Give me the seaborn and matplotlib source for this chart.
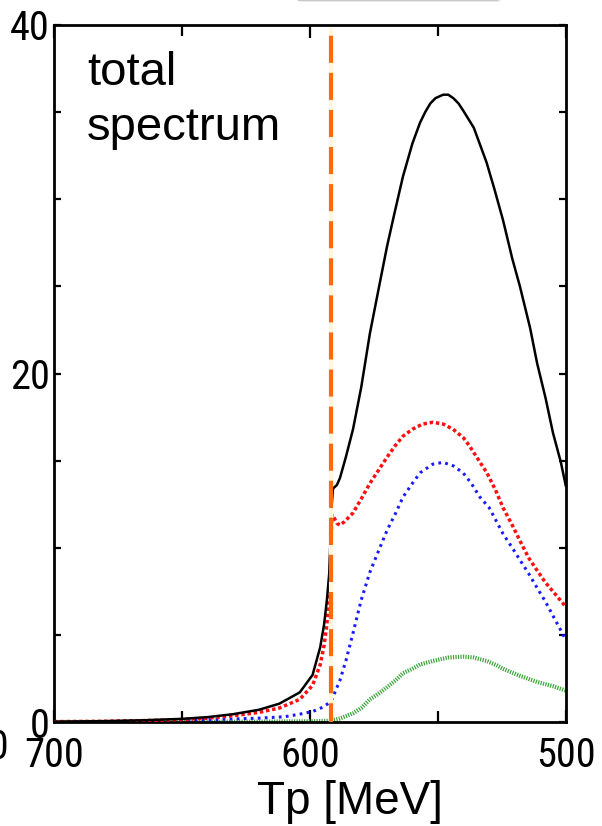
import numpy as np
import pandas as pd
import matplotlib
matplotlib.use("Agg")
import matplotlib.pyplot as plt
from matplotlib.ticker import MultipleLocator
from matplotlib.patches import FancyBboxPatch
from matplotlib import font_manager as fm
import seaborn as sns

# ---------------- data ----------------
threshold = 591.8

tp_black = [700, 680, 665, 650, 640, 630, 620, 612, 604, 599, 596, 594.5, 593.4, 592.5, 592.0,
            591.5, 591.0, 589.5, 588.3, 586, 583.2, 580, 576.6, 573, 569.9, 567, 563.7, 560,
            557, 555, 553, 551, 548, 546, 544, 542, 540.2, 536, 531, 528, 524.6, 521, 518, 514,
            511.3, 508, 505.1, 502, 500]
val_black = [0.02, 0.05, 0.1, 0.18, 0.28, 0.45, 0.7, 1.05, 1.7, 2.7, 4.3, 5.6, 7.0, 8.5, 10.5,
             12.5, 13.4, 13.6, 14.0, 15.2, 16.8, 19.2, 22.3, 25.0, 27.3, 29.2, 31.3, 33.2,
             34.4, 35.0, 35.5, 35.8, 36.0, 36.0, 35.8, 35.5, 35.1, 34.1, 32.1, 30.6, 28.8, 26.6,
             25.0, 22.6, 20.6, 18.6, 16.6, 14.9, 13.5]

tp_red = [700, 680, 665, 650, 640, 630, 620, 612, 604, 599, 596, 594.5, 593.4, 592.5, 592.0,
          591.5, 590.5, 589.5, 588.3, 586.5, 583.2, 580, 576.6, 573, 569.9, 566.5, 563.7, 560,
          556, 552, 548, 544.1, 540, 537.5, 534, 530.9, 527.5, 524.6, 521, 518, 514.5, 511.3,
          508, 504, 500]
val_red = [0.02, 0.04, 0.08, 0.14, 0.22, 0.36, 0.55, 0.8, 1.3, 2.1, 3.3, 4.4, 5.6, 7.2, 9.0,
           11.9, 11.7, 11.4, 11.3, 11.5, 12.0, 12.8, 13.7, 14.5, 15.2, 15.9, 16.4, 16.8,
           17.1, 17.2, 17.1, 16.8, 16.3, 15.8, 15.0, 14.3, 13.3, 12.3, 11.3, 10.4, 9.4, 8.7,
           8.0, 7.3, 6.6]

tp_blue = [700, 680, 665, 650, 635, 620, 610, 604, 599, 595, 592.5, 591.4, 590, 588.3, 586,
           583.2, 580, 576.6, 573, 569.9, 566.5, 563.7, 560, 557, 552, 548, 544, 540.2, 537,
           533.6, 530, 524.6, 521, 518, 514.5, 511.3, 508, 504, 500]
val_blue = [0.01, 0.03, 0.06, 0.1, 0.15, 0.22, 0.3, 0.45, 0.6, 0.85, 1.1, 1.3, 1.8, 2.4, 3.5,
            5.1, 7.0, 8.6, 9.9, 11.0, 12.0, 12.9, 13.7, 14.3, 14.8, 14.9, 14.7, 14.3, 13.7,
            12.9, 12.3, 10.8, 10.0, 9.3, 8.5, 7.7, 6.9, 5.8, 4.7]

tp_green = [700, 650, 620, 600, 592, 591.4, 588.3, 583.2, 580, 576.6, 573, 569.9, 566.5, 563.7,
            560, 557, 552, 546, 540, 536, 530.9, 527, 524.6, 518, 511.3, 505, 500]
val_green = [0.0, 0.01, 0.02, 0.04, 0.07, 0.1, 0.2, 0.5, 0.8, 1.3, 1.65, 2.0, 2.4, 2.8,
             3.05, 3.3, 3.5, 3.7, 3.75, 3.7, 3.5, 3.25, 3.05, 2.65, 2.3, 2.05, 1.8]

x_ticks = [700, 600, 500]
y_ticks = [0, 20, 40]
x_label = "Tp [MeV]"
annotation = ["total", "spectrum"]

# ---------------- style ----------------
sns.set_style("ticks")
plt.rcParams["font.family"] = ["Liberation Sans", "DejaVu Sans"]
for k in ("text.color", "axes.labelcolor", "xtick.color", "ytick.color", "axes.edgecolor"):
    plt.rcParams[k] = "black"

# find the narrowest installed sans font for the tick labels
def pick_narrow():
    prefs = ["Liberation Sans Narrow", "Roboto Condensed", "Open Sans Condensed",
             "Noto Sans Condensed", "DejaVu Sans Condensed"]
    cands = []
    for f in fm.fontManager.ttflist:
        name = f.name
        st = str(f.stretch)
        if f.style != "normal" or f.weight not in (400, "normal", "regular"):
            continue
        narrowish = ("Narrow" in name or "Condensed" in name or
                     st in ("condensed", "semi-condensed", "extra-condensed",
                            "ultra-condensed"))
        if narrowish:
            cands.append(f)
    for p in prefs:
        for f in cands:
            if f.name == p:
                return fm.FontProperties(fname=f.fname)
    if cands:
        return fm.FontProperties(fname=cands[0].fname)
    return fm.FontProperties(family="Liberation Sans")

tick_fp = pick_narrow()

W, H = 602, 826
fig = plt.figure(figsize=(W / 100, H / 100), dpi=100)
ax = fig.add_axes([54 / W, 1 - 722 / H, 512 / W, 697 / H])

series = [
    (tp_black, val_black, dict(color="black", lw=1.8, linestyle="-"), 4),
    (tp_red, val_red, dict(color="#ff1010", lw=2.5, linestyle=(0, (1.0, 0.8))), 3),
    (tp_blue, val_blue, dict(color="#1a1aff", lw=2.2, linestyle=(0, (0.9, 1.4))), 2),
    (tp_green, val_green, dict(color="#3ea83e", lw=3.0, linestyle=(0, (0.3, 0.3))), 1),
]
for xs, ys, style, z in series:
    df = pd.DataFrame({"Tp": xs, "v": ys})
    sns.lineplot(data=df, x="Tp", y="v", ax=ax, sort=False, estimator=None,
                 zorder=z, solid_capstyle="butt", dash_capstyle="butt",
                 solid_joinstyle="round", **style)

ax.axvline(threshold, color="#ff6a0a", lw=3.0, linestyle=(2.0, (6.5, 2.4)),
           gapcolor="#fff6dc", zorder=6, ymin=0, ymax=0.995)

ax.set_xlim(700, 500)
ax.set_ylim(0, 40)
ax.xaxis.set_major_locator(MultipleLocator(100))
ax.xaxis.set_minor_locator(MultipleLocator(50))
ax.yaxis.set_major_locator(MultipleLocator(20))
ax.yaxis.set_minor_locator(MultipleLocator(5))
ax.set_xticks(x_ticks)
ax.set_yticks(y_ticks)
ax.set_xticklabels([str(t) for t in x_ticks])
ax.set_yticklabels([str(t) for t in y_ticks])

ax.tick_params(which="both", direction="in", top=True, right=True, width=1.6,
               color="black")
ax.tick_params(axis="x", which="major", length=9, pad=10)
ax.tick_params(axis="x", which="minor", length=8)
ax.tick_params(axis="y", which="both", length=5)
ax.tick_params(axis="y", which="major", pad=3)

# size the narrow labels so that "600" is about 60 px wide
fig.canvas.draw()
r = fig.canvas.get_renderer()
probe = fig.text(0, 0, "600", fontproperties=tick_fp, fontsize=30)
w = probe.get_window_extent(r).width
probe.remove()
tick_size = min(40, max(18, 30 * 60 / w))
for lab in ax.get_xticklabels() + ax.get_yticklabels():
    lab.set_fontproperties(tick_fp)
    lab.set_fontsize(tick_size)
    lab.set_color("black")

for s in ax.spines.values():
    s.set_linewidth(2.0)
    s.set_color("black")

ax.set_ylabel("")
ax.set_xlabel(x_label, fontsize=33, va="baseline", color="black")
ax.xaxis.set_label_coords((350 - 54) / 512, -(814 - 722) / 697)

fig.text(87 / W, 1 - 85 / H, annotation[0], fontsize=34, va="baseline", ha="left")
fig.text(87 / W, 1 - 140 / H, annotation[1], fontsize=34, va="baseline", ha="left")

# neighbouring panel's cut-off tick label at the far left edge
fig.text(9 / W, 1 - 722 / H - 6 / H, "500", fontproperties=tick_fp, fontsize=tick_size,
         ha="right", va="top")

# partially visible legend box at the top
fig.patches.append(FancyBboxPatch((299 / W, 1 - 2 / H), 202 / W, 30 / H,
                                  boxstyle="round,pad=0,rounding_size=0.004",
                                  transform=fig.transFigure, facecolor="#e6e6e6",
                                  edgecolor="none", alpha=0.7, zorder=0))
fig.patches.append(FancyBboxPatch((297 / W, 1 - 0.5 / H), 202 / W, 30 / H,
                                  boxstyle="round,pad=0,rounding_size=0.004",
                                  transform=fig.transFigure, facecolor="white",
                                  edgecolor="#c8c8c8", lw=0.8, zorder=1))

fig.savefig("out.png", dpi=100)
